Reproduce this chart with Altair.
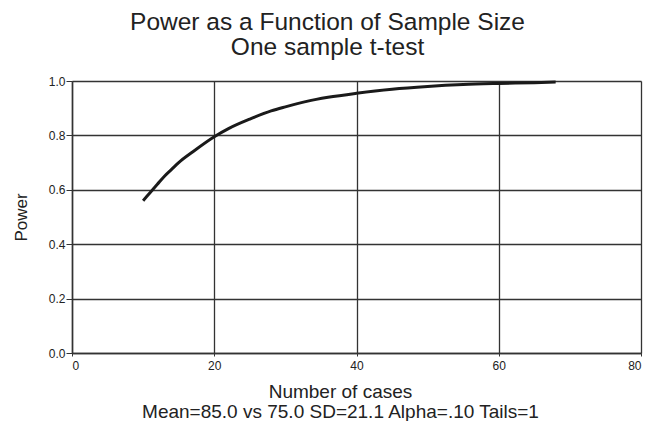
import altair as alt
import pandas as pd

# Values
n_cases = [10, 11, 12, 13, 14, 15, 17, 20, 22, 25, 28, 30, 33, 36, 40, 45, 50, 55, 60, 65, 68]
power = [0.56, 0.59, 0.62, 0.65, 0.675, 0.70, 0.74, 0.795, 0.825, 0.86, 0.89, 0.905,
         0.925, 0.94, 0.955, 0.97, 0.98, 0.987, 0.991, 0.994, 0.996]
x_ticks = [0, 20, 40, 60, 80]
y_ticks = [0.0, 0.2, 0.4, 0.6, 0.8, 1.0]
title_lines = ["Power as a Function of Sample Size", "One sample t-test"]
x_title_lines = ["Number of cases", "Mean=85.0 vs 75.0 SD=21.1 Alpha=.10  Tails=1"]

df = pd.DataFrame({"n": n_cases, "power": power})

FONT = "Liberation Sans"
INK = "#222222"
GRID = "#333333"

chart = (
    alt.Chart(df)
    .mark_line(color="#1a1a1a", strokeWidth=3, interpolate="monotone")
    .encode(
        x=alt.X(
            "n:Q",
            scale=alt.Scale(domain=[0, 80], nice=False, zero=False),
            axis=alt.Axis(
                values=x_ticks,
                format="d",
                title=x_title_lines,
                titleFont=FONT,
                titleFontSize=19,
                titleFontWeight="normal",
                titleColor=INK,
                titleLineHeight=20,
                titleBaseline="alphabetic",
                titleAlign="center",
                titleX=268,
                titleY=44,
                labelFont=FONT,
                labelFontSize=12,
                labelColor=INK,
                labelPadding=4,
                tickSize=3,
                tickColor=GRID,
                domainColor=GRID,
                domainWidth=1.5,
                gridColor=GRID,
                gridWidth=1.3,
                gridOpacity=1,
            ),
        ),
        y=alt.Y(
            "power:Q",
            scale=alt.Scale(domain=[0, 1], nice=False),
            axis=alt.Axis(
                values=y_ticks,
                format=".1f",
                title="Power",
                titleFont=FONT,
                titleFontSize=17,
                titleFontWeight="normal",
                titleColor=INK,
                titleAngle=270,
                titleBaseline="alphabetic",
                titleAlign="center",
                titleX=-46,
                titleY=136,
                labelFont=FONT,
                labelFontSize=12,
                labelColor=INK,
                labelPadding=1,
                tickSize=6,
                tickColor=GRID,
                domainColor=GRID,
                domainWidth=1.5,
                gridColor=GRID,
                gridWidth=1.3,
                gridOpacity=1,
            ),
        ),
    )
    .properties(
        width=569,
        height=272,
        autosize=alt.AutoSizeParams(type="none"),
        padding={"left": 64, "top": 73, "right": 8, "bottom": 72},
        title=alt.TitleParams(
            text=title_lines,
            font=FONT,
            fontSize=24.5,
            fontWeight="normal",
            color=INK,
            lineHeight=25,
            anchor="middle",
            dx=-29,
            offset=15,
        ),
    )
    .configure_view(stroke=GRID, strokeWidth=1.5)
    .configure(background="white")
)

chart.save("out.html", embed_options={"renderer": "svg", "actions": False})
